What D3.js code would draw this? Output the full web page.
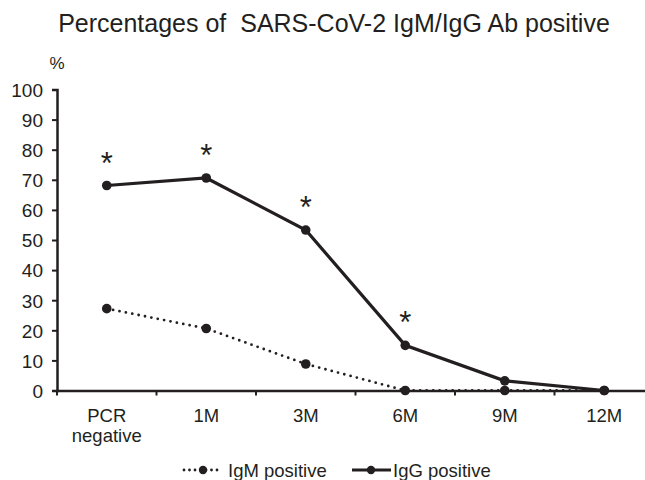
<!DOCTYPE html>
<html>
<head>
<meta charset="utf-8">
<script src="https://cdn.jsdelivr.net/npm/d3@7"></script>
<style>
  body { margin: 0; background: #fff; }
  svg text { font-family: "Liberation Sans", Arial, sans-serif; fill: #231f20; }
</style>
</head>
<body>
<div id="chart"></div>
<script>
var categories = ["PCR\nnegative", "1M", "3M", "6M", "9M", "12M"];
var igmValues = [27.2, 20.6, 8.8, 0, 0, 0];
var iggValues = [68.1, 70.6, 53.3, 15.0, 3.2, 0];
var significant = [true, true, true, true, false, false];
var yTicks = [0, 10, 20, 30, 40, 50, 60, 70, 80, 90, 100];

var width = 645, height = 480;
var margin = {top: 89.5, right: -9, bottom: 89.5, left: 57};

var svg = d3.select("#chart").append("svg")
    .attr("width", width)
    .attr("height", height);

var x = d3.scaleBand()
    .domain(categories)
    .range([margin.left, width - margin.right]);

var y = d3.scaleLinear()
    .domain([0, 100])
    .range([height - margin.bottom, margin.top]);

// title
svg.append("text")
    .attr("x", 334)
    .attr("y", 32)
    .attr("text-anchor", "middle")
    .style("font-size", "25px")
    .text("Percentages of \u00a0SARS-CoV-2 IgM/IgG Ab positive");

svg.append("text")
    .attr("x", 57)
    .attr("y", 69)
    .attr("text-anchor", "middle")
    .style("font-size", "17px")
    .text("%");

// y axis
var yAxis = svg.append("g")
    .attr("transform", "translate(" + margin.left + ",0)")
    .call(d3.axisLeft(y).tickValues(yTicks).tickSize(5).tickPadding(9));
yAxis.selectAll("text").style("font-size", "19px").attr("dy", "0.36em");

// x axis
var xAxis = svg.append("g")
    .attr("transform", "translate(0," + y(0) + ")")
    .call(d3.axisBottom(x).tickSize(0).tickFormat(""));

xAxis.selectAll(".tick").remove();
xAxis.selectAll(".divider")
    .data(categories)
    .enter().append("line")
    .attr("x1", function(d) { return x(d); })
    .attr("x2", function(d) { return x(d); })
    .attr("y1", 0)
    .attr("y2", 5)
    .attr("stroke", "#231f20")
    .attr("stroke-width", 2);

svg.selectAll(".domain").attr("stroke", "#231f20").attr("stroke-width", 2.5);
yAxis.selectAll(".tick line").attr("stroke", "#231f20").attr("stroke-width", 2);

var xLabels = svg.append("g").selectAll("text")
    .data(categories)
    .enter().append("text")
    .attr("x", function(d) { return x(d) + x.bandwidth() / 2; })
    .attr("y", y(0) + 31)
    .attr("text-anchor", "middle")
    .style("font-size", "18.5px");
xLabels.each(function(d) {
    var t = d3.select(this);
    d.split("\n").forEach(function(part, i) {
        t.append("tspan")
            .attr("x", x(d) + x.bandwidth() / 2)
            .attr("dy", i === 0 ? 0 : 20)
            .text(part);
    });
});

var cx = function(d, i) { return x(categories[i]) + x.bandwidth() / 2; };
var line = d3.line()
    .x(cx)
    .y(function(d) { return y(d); });

// IgM dotted
svg.append("path")
    .datum(igmValues)
    .attr("d", line)
    .attr("fill", "none")
    .attr("stroke", "#231f20")
    .attr("stroke-width", 2.8)
    .attr("stroke-linecap", "round")
    .attr("stroke-dasharray", "0 6.5");

// IgG solid
svg.append("path")
    .datum(iggValues)
    .attr("d", line)
    .attr("fill", "none")
    .attr("stroke", "#231f20")
    .attr("stroke-width", 3.2);

svg.append("g").selectAll("circle")
    .data(igmValues)
    .enter().append("circle")
    .attr("cx", cx)
    .attr("cy", function(d) { return y(d); })
    .attr("r", 4.8)
    .attr("fill", "#231f20");

svg.append("g").selectAll("circle")
    .data(iggValues)
    .enter().append("circle")
    .attr("cx", cx)
    .attr("cy", function(d) { return y(d); })
    .attr("r", 4.8)
    .attr("fill", "#231f20");

// asterisks
svg.append("g").selectAll("text")
    .data(iggValues)
    .enter().filter(function(d, i) { return significant[i]; })
    .append("text")
    .attr("x", cx)
    .attr("y", function(d) { return y(d) - 12; })
    .attr("text-anchor", "middle")
    .style("font-size", "31px")
    .text("*");

// legend
var legend = svg.append("g").attr("transform", "translate(0,470)");
legend.append("line")
    .attr("x1", 184).attr("x2", 221).attr("y1", 0).attr("y2", 0)
    .attr("stroke", "#231f20").attr("stroke-width", 2.8)
    .attr("stroke-linecap", "round").attr("stroke-dasharray", "0 5.5");
legend.append("circle").attr("cx", 203).attr("cy", 0).attr("r", 4.2).attr("fill", "#231f20");
legend.append("text").attr("x", 228).attr("y", 6.5).style("font-size", "18.5px").text("IgM positive");

legend.append("line")
    .attr("x1", 352).attr("x2", 391).attr("y1", 0).attr("y2", 0)
    .attr("stroke", "#231f20").attr("stroke-width", 3);
legend.append("circle").attr("cx", 371).attr("cy", 0).attr("r", 4.2).attr("fill", "#231f20");
legend.append("text").attr("x", 393).attr("y", 6.5).style("font-size", "18.5px").text("IgG positive");
</script>
</body>
</html>
